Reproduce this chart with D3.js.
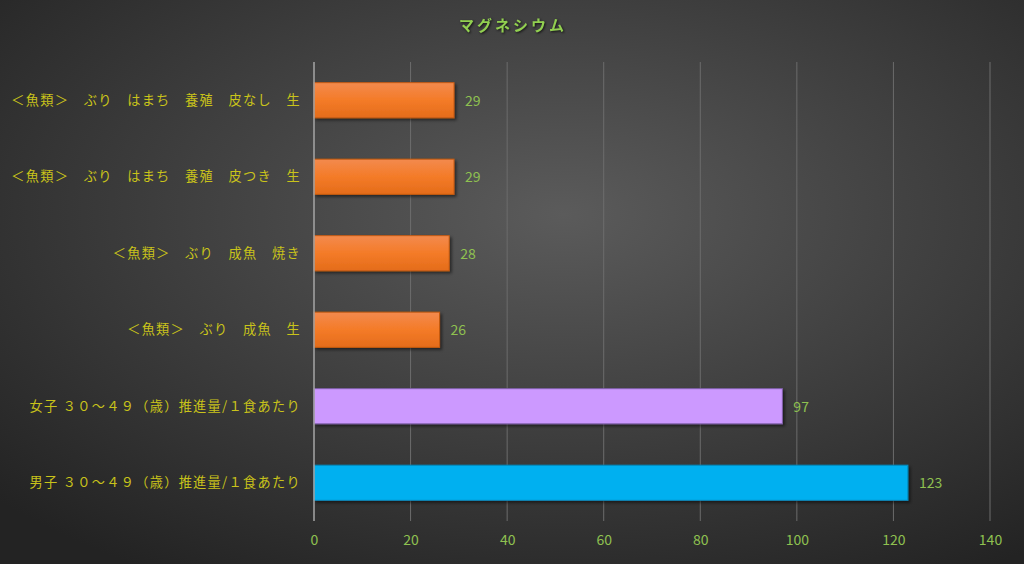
<!DOCTYPE html>
<html>
<head>
<meta charset="utf-8">
<script src="https://cdn.jsdelivr.net/npm/d3@7"></script>
<style>
  html, body { margin: 0; padding: 0; background: #333; }
  svg { display: block; font-family: "Noto Sans CJK JP", "Noto Sans", sans-serif; }
</style>
</head>
<body>
<svg width="1024" height="564"></svg>
<script>
const categories = [
  "＜魚類＞　ぶり　はまち　養殖　皮なし　生",
  "＜魚類＞　ぶり　はまち　養殖　皮つき　生",
  "＜魚類＞　ぶり　成魚　焼き",
  "＜魚類＞　ぶり　成魚　生",
  "女子 ３０～４９（歳）推進量/１食あたり",
  "男子 ３０～４９（歳）推進量/１食あたり"
];
const values = [29, 29, 28, 26, 97, 123];
const barKinds = ["fish", "fish", "fish", "fish", "female", "male"];
const xTicks = [0, 20, 40, 60, 80, 100, 120, 140];
const title = "マグネシウム";

const svg = d3.select("svg");
const W = 1024, H = 564;
const margin = { left: 314, right: 34, top: 62, bottom: 43 };

const defs = svg.append("defs");
const bg = defs.append("radialGradient").attr("id", "bg")
  .attr("cx", "55%").attr("cy", "38%").attr("r", "75%");
bg.append("stop").attr("offset", "0%").attr("stop-color", "#5b5b5b");
bg.append("stop").attr("offset", "100%").attr("stop-color", "#232323");

const og = defs.append("linearGradient").attr("id", "orange")
  .attr("x1", 0).attr("y1", 0).attr("x2", 0).attr("y2", 1);
og.append("stop").attr("offset", "0%").attr("stop-color", "#f38a4e");
og.append("stop").attr("offset", "50%").attr("stop-color", "#f47b28");
og.append("stop").attr("offset", "100%").attr("stop-color", "#e46c1a");

const shadow = defs.append("filter").attr("id", "shadow")
  .attr("x", "-10%").attr("y", "-20%").attr("width", "130%").attr("height", "160%");
shadow.append("feDropShadow").attr("dx", 2).attr("dy", 2).attr("stdDeviation", 1.5)
  .attr("flood-color", "#000").attr("flood-opacity", 0.5);

svg.append("rect").attr("width", W).attr("height", H).attr("fill", "url(#bg)");

const x = d3.scaleLinear().domain([0, 140]).range([margin.left, W - margin.right]);
const y = d3.scaleBand().domain(categories).range([margin.top, H - margin.bottom]).paddingInner(0.54).paddingOuter(0.27);

// gridlines
svg.append("g").selectAll("line").data(xTicks.slice(1)).join("line")
  .attr("x1", d => x(d)).attr("x2", d => x(d))
  .attr("y1", margin.top).attr("y2", H - margin.bottom)
  .attr("stroke", "#6c6c6c").attr("stroke-width", 1);

const fills = { fish: "url(#orange)", female: "#cc99ff", male: "#00b0f0" };
const strokes = { fish: "#c55a11", female: "#7f5fa8", male: "#0a86b8" };

svg.append("g").selectAll("rect").data(values).join("rect")
  .attr("x", x(0))
  .attr("y", (d, i) => y(categories[i]))
  .attr("width", d => x(d) - x(0))
  .attr("height", y.bandwidth())
  .attr("fill", (d, i) => fills[barKinds[i]])
  .attr("stroke", (d, i) => strokes[barKinds[i]])
  .attr("stroke-width", 1)
  .attr("filter", "url(#shadow)");

// zero axis line
svg.append("line")
  .attr("x1", x(0)).attr("x2", x(0))
  .attr("y1", margin.top).attr("y2", H - margin.bottom)
  .attr("stroke", "#a6a6a6").attr("stroke-width", 1.5);

// value labels
svg.append("g").selectAll("text").data(values).join("text")
  .attr("x", d => x(d) + 11)
  .attr("y", (d, i) => y(categories[i]) + y.bandwidth() / 2)
  .attr("dy", "0.38em")
  .attr("fill", "#8fc150")
  .attr("font-size", 14)
  .text(d => d);

// category labels
svg.append("g").selectAll("text").data(categories).join("text")
  .attr("x", margin.left - 13)
  .attr("y", d => y(d) + y.bandwidth() / 2)
  .attr("dy", "0.35em")
  .attr("text-anchor", "end")
  .attr("fill", "#c9c31a")
  .attr("font-size", 13.2)
  .attr("letter-spacing", 1.3)
  .text(d => d);

// x axis tick labels
const xAxis = d3.axisBottom(x).tickValues(xTicks).tickSize(0).tickPadding(14);
const gx = svg.append("g").attr("transform", `translate(0,${H - margin.bottom})`).call(xAxis);
gx.select(".domain").remove();
gx.selectAll("text").attr("fill", "#8fc150").attr("font-size", 14)
  .attr("font-family", "\"Noto Sans CJK JP\", sans-serif");

// title
svg.append("text")
  .attr("x", 513).attr("y", 31)
  .attr("text-anchor", "middle")
  .attr("fill", "#92d050")
  .attr("font-size", 15)
  .attr("font-weight", "bold")
  .attr("letter-spacing", 3)
  .style("filter", "drop-shadow(1px 1px 1px rgba(0,0,0,0.7))")
  .text(title);
</script>
</body>
</html>
